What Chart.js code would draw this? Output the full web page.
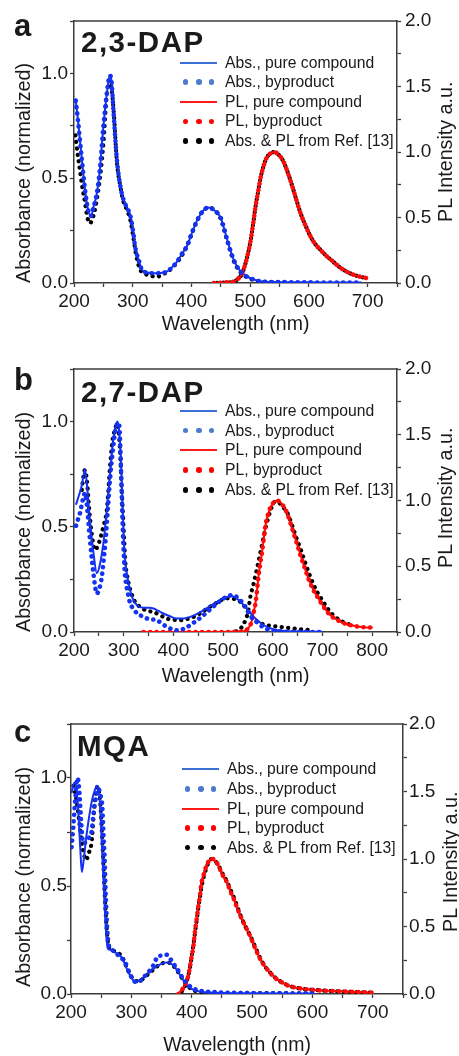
<!DOCTYPE html>
<html lang="en">
<head>
<meta charset="UTF-8">
<title>Absorption and PL spectra: 2,3-DAP, 2,7-DAP, MQA</title>
<script src="https://cdn.jsdelivr.net/npm/chart.js"></script>
<style>
  html, body { margin: 0; padding: 0; background: #fff; overflow: hidden; }
  body { width: 459px; height: 1056px; position: relative; font-family: 'Liberation Sans', Arial, sans-serif; color: #1a1a1a; }
  .panel { position: absolute; left: 0; width: 459px; }
  .panel canvas { position: absolute; left: 0; top: 0; }
  .letter { position: absolute; font-weight: bold; font-size: 31px; line-height: 1; }
  .name { position: absolute; font-weight: bold; font-size: 29.5px; line-height: 1; letter-spacing: 1.5px; }
  .ytitle { position: absolute; font-size: 19.7px; line-height: 1; white-space: nowrap; transform: rotate(-90deg); transform-origin: 0 0; }
  .lrow { position: absolute; height: 20px; line-height: 20px; font-size: 15.7px; white-space: nowrap; }
  .lrow .mk { position: absolute; top: 0; width: 37px; height: 20px; }
  .lrow .ln { position: absolute; left: 0; top: 9px; width: 37px; height: 2px; }
  .lrow .dt { position: absolute; top: 7.25px; width: 5.5px; height: 5.5px; border-radius: 50%; }
  .lrow .tx { position: absolute; top: 0; }
</style>
</head>
<body>

<div class="panel" id="pa" style="top:0;height:340px">
  <canvas id="chartA" width="459" height="340"></canvas>
  <div class="letter" style="left:14px;top:10px">a</div>
  <div class="name" style="left:81px;top:26.5px">2,3-DAP</div>
  <div class="ytitle" style="left:13.5px;top:283px">Absorbance (normalized)</div>
  <div class="ytitle" style="left:436.3px;top:221.6px">PL Intensity a.u.</div>
</div>

<div class="panel" id="pb" style="top:340px;height:350px">
  <canvas id="chartB" width="459" height="350"></canvas>
  <div class="letter" style="left:14px;top:23.8px">b</div>
  <div class="name" style="left:81px;top:37.2px">2,7-DAP</div>
  <div class="ytitle" style="left:13.5px;top:292px">Absorbance (normalized)</div>
  <div class="ytitle" style="left:436.3px;top:228px">PL Intensity a.u.</div>
</div>

<div class="panel" id="pc" style="top:690px;height:368px">
  <canvas id="chartC" width="459" height="368"></canvas>
  <div class="letter" style="left:14px;top:25.5px">c</div>
  <div class="name" style="left:77px;top:40.5px">MQA</div>
  <div class="ytitle" style="left:13.5px;top:297px">Absorbance (normalized)</div>
  <div class="ytitle" style="left:440.8px;top:241.7px">PL Intensity a.u.</div>
</div>

<script>
// ---- panel a: 2,3-DAP (pure compound and byproduct coincide) ----
const aAbsWl = [203, 207, 213, 219, 224, 229, 233, 239, 244, 250, 256, 261, 264, 267, 273, 279, 284, 290, 296, 301, 304, 310, 316, 325, 336, 347, 358, 367, 375, 384, 393, 401, 410, 420, 429, 440, 450, 461, 472, 484, 501, 524, 560, 600, 650, 690];
const aAbs = [0.87, 0.77, 0.60, 0.44, 0.35, 0.32, 0.36, 0.43, 0.54, 0.745, 0.905, 0.99, 0.96, 0.83, 0.59, 0.46, 0.40, 0.36, 0.32, 0.24, 0.175, 0.11, 0.062, 0.05, 0.046, 0.048, 0.054, 0.075, 0.10, 0.14, 0.18, 0.24, 0.30, 0.345, 0.36, 0.345, 0.31, 0.205, 0.11, 0.054, 0.022, 0.006, 0.004, 0.003, 0.002, 0.002];
const aRefAbsWl = [202, 206, 210, 214, 219, 223, 227, 233, 239, 245, 250, 256, 261, 264, 268, 273, 279, 284, 290, 296, 301, 306, 313, 320, 330, 341, 350, 360, 370, 380, 393, 401, 410, 420, 430, 440, 450, 461, 472, 484, 501, 524, 560];
const aRefAbs = [0.72, 0.62, 0.54, 0.46, 0.38, 0.31, 0.285, 0.32, 0.40, 0.52, 0.665, 0.905, 0.95, 0.93, 0.80, 0.58, 0.46, 0.39, 0.35, 0.30, 0.22, 0.13, 0.062, 0.045, 0.035, 0.03, 0.04, 0.055, 0.08, 0.115, 0.18, 0.24, 0.30, 0.345, 0.36, 0.345, 0.305, 0.20, 0.105, 0.05, 0.02, 0.005, 0.003];
const aPlWl = [438, 450, 462, 472, 480, 486, 492, 497, 501, 505, 509, 514, 518, 524, 529, 535, 541, 547, 553, 558, 565, 572, 579, 586, 595, 603, 612, 620, 630, 638, 647, 655, 665, 677, 690, 700];
const aPl = [0, 0.002, 0.005, 0.01, 0.035, 0.07, 0.15, 0.24, 0.33, 0.45, 0.58, 0.71, 0.81, 0.91, 0.964, 0.99, 1.0, 0.985, 0.955, 0.914, 0.83, 0.735, 0.63, 0.53, 0.43, 0.353, 0.29, 0.252, 0.205, 0.176, 0.14, 0.112, 0.085, 0.061, 0.045, 0.036];

// ---- panel b: 2,7-DAP ----
const bAbsPureWl = [204, 210, 215, 219, 222, 226, 232, 239, 246, 252, 259, 264, 269, 274, 279, 284, 288, 291, 294, 297, 301, 305, 310, 318, 327, 340, 352, 360, 370, 380, 393, 407, 420, 434, 447, 461, 475, 488, 500, 510, 519, 530, 542, 552, 562, 572, 582, 595, 610, 630, 660, 700];
const bAbsPure = [0.605, 0.65, 0.69, 0.74, 0.772, 0.70, 0.533, 0.38, 0.28, 0.32, 0.42, 0.53, 0.66, 0.79, 0.915, 0.98, 1.0, 0.95, 0.85, 0.66, 0.40, 0.30, 0.23, 0.16, 0.127, 0.115, 0.115, 0.112, 0.10, 0.088, 0.075, 0.064, 0.064, 0.072, 0.085, 0.104, 0.125, 0.143, 0.16, 0.168, 0.17, 0.155, 0.127, 0.10, 0.072, 0.05, 0.032, 0.018, 0.008, 0.004, 0.002, 0.001];
const bAbsBypWl = [204, 208, 212, 216, 219, 222, 226, 232, 239, 246, 251, 256, 260, 263, 268, 273, 278, 283, 287, 290, 292, 294, 296, 298, 301, 303, 308, 313, 320, 327, 337, 347, 357, 367, 377, 387, 397, 407, 418, 428, 438, 448, 458, 468, 478, 488, 498, 508, 515, 525, 535, 545, 552, 560, 569, 579, 590, 605, 622, 645, 670, 700];
const bAbsByp = [0.505, 0.535, 0.565, 0.61, 0.64, 0.66, 0.60, 0.44, 0.28, 0.183, 0.207, 0.263, 0.35, 0.42, 0.58, 0.74, 0.86, 0.955, 0.99, 0.995, 0.95, 0.82, 0.66, 0.50, 0.33, 0.263, 0.19, 0.136, 0.11, 0.088, 0.075, 0.064, 0.06, 0.056, 0.04, 0.024, 0.014, 0.008, 0.012, 0.024, 0.04, 0.056, 0.075, 0.095, 0.116, 0.136, 0.155, 0.168, 0.175, 0.17, 0.15, 0.12, 0.09, 0.062, 0.045, 0.026, 0.012, 0.005, 0.002, 0.001, 0, 0];
const bRefAbsWl = [215, 219, 222, 226, 230, 235, 242, 248, 253, 259, 266, 273, 278, 283, 286, 290, 293, 296, 298, 301, 303, 306, 310, 316, 323, 330, 337, 348, 360, 373, 387, 400, 414, 428, 441, 455, 468, 481, 495, 505, 515, 525, 535, 545, 552, 560, 569, 579, 589, 602, 616, 630, 643, 656, 670, 680];
const bRefAbs = [0.66, 0.74, 0.77, 0.72, 0.60, 0.48, 0.39, 0.41, 0.446, 0.50, 0.58, 0.80, 0.92, 0.963, 0.99, 0.95, 0.85, 0.68, 0.58, 0.44, 0.34, 0.28, 0.23, 0.18, 0.143, 0.125, 0.112, 0.10, 0.095, 0.08, 0.064, 0.058, 0.056, 0.062, 0.072, 0.09, 0.112, 0.13, 0.15, 0.16, 0.16, 0.155, 0.143, 0.115, 0.088, 0.065, 0.048, 0.038, 0.032, 0.028, 0.024, 0.02, 0.016, 0.013, 0.01, 0.008];
const bPlWl = [340, 380, 420, 460, 500, 530, 540, 546, 551, 556, 561, 566, 572, 579, 586, 591, 596, 602, 608, 614, 620, 626, 633, 640, 648, 657, 665, 673, 681, 690, 700, 710, 720, 731, 745, 758, 770, 778, 790, 801];
const bPl = [0, 0, 0, 0, 0, 0.003, 0.006, 0.013, 0.03, 0.064, 0.14, 0.24, 0.445, 0.623, 0.826, 0.90, 0.953, 0.985, 1.0, 0.99, 0.965, 0.927, 0.86, 0.775, 0.68, 0.57, 0.48, 0.394, 0.325, 0.267, 0.205, 0.152, 0.115, 0.089, 0.065, 0.051, 0.042, 0.038, 0.035, 0.034];
const bRefPlWl = [520, 530, 535, 540, 545, 550, 555, 561, 566, 571, 576, 581, 586, 591, 596, 600, 604, 610, 616, 623, 630, 640, 648, 657, 665, 673, 681, 690, 700, 710, 720, 731, 745, 760];
const bRefPl = [0, 0.01, 0.026, 0.05, 0.09, 0.15, 0.27, 0.36, 0.445, 0.53, 0.62, 0.71, 0.80, 0.87, 0.93, 0.97, 0.99, 0.99, 0.97, 0.94, 0.90, 0.80, 0.71, 0.62, 0.53, 0.445, 0.37, 0.30, 0.24, 0.18, 0.135, 0.10, 0.07, 0.05];

// ---- panel c: MQA ----
const cAbsPureWl = [201, 204, 207, 210, 213, 216, 218, 221, 225, 230, 235, 239, 243, 247, 250, 253, 256, 258.5, 261, 265, 270, 278, 285, 292, 298, 304, 308, 313, 319, 327, 336, 347, 358, 366, 373, 380, 387, 394, 402, 412, 425, 440, 470, 520, 570, 603];
const cAbsPure = [0.93, 0.97, 0.98, 0.93, 0.80, 0.64, 0.565, 0.62, 0.72, 0.82, 0.90, 0.94, 0.964, 0.92, 0.76, 0.575, 0.39, 0.27, 0.21, 0.205, 0.197, 0.185, 0.165, 0.12, 0.085, 0.06, 0.058, 0.063, 0.074, 0.095, 0.115, 0.136, 0.146, 0.14, 0.12, 0.09, 0.06, 0.035, 0.02, 0.012, 0.008, 0.006, 0.004, 0.003, 0.002, 0.002];
const cAbsBypWl = [201, 204, 207, 211, 214, 217, 220, 224, 229, 234, 238, 242, 245, 249, 252, 254, 256, 257, 258.5, 260, 262, 266, 270, 278, 284, 289, 297, 305, 312, 319, 328, 336, 344, 351, 358, 364, 369, 375, 380, 386, 391, 400, 408, 420, 430, 460, 500, 550, 600];
const cAbsByp = [0.68, 0.78, 0.90, 1.0, 0.93, 0.79, 0.70, 0.70, 0.72, 0.75, 0.85, 0.92, 0.95, 0.92, 0.86, 0.73, 0.61, 0.50, 0.39, 0.30, 0.235, 0.21, 0.2, 0.18, 0.165, 0.15, 0.097, 0.058, 0.055, 0.074, 0.10, 0.13, 0.174, 0.178, 0.182, 0.165, 0.143, 0.12, 0.097, 0.07, 0.051, 0.03, 0.02, 0.012, 0.01, 0.006, 0.004, 0.003, 0.002];
const cRefAbsWl = [200, 203, 207, 210, 214, 218, 222, 225, 229, 234, 239, 244, 248, 251, 254, 257, 260, 263, 270, 278, 285, 292, 298, 304, 310, 318, 327, 336, 347, 358, 366, 373, 380, 387, 396, 405, 420, 440, 480, 540, 600];
const cRefAbs = [0.97, 0.97, 0.93, 0.88, 0.79, 0.70, 0.64, 0.62, 0.65, 0.70, 0.88, 0.96, 0.90, 0.76, 0.58, 0.40, 0.27, 0.215, 0.20, 0.19, 0.17, 0.125, 0.09, 0.065, 0.06, 0.068, 0.09, 0.112, 0.136, 0.146, 0.14, 0.12, 0.09, 0.06, 0.03, 0.015, 0.008, 0.006, 0.005, 0.004, 0.003];
const cPlWl = [378, 386, 390, 394, 397, 400, 403, 405, 408, 411, 414, 416, 419, 422, 426, 430, 435, 440, 445, 449, 454, 459, 464, 470, 475, 481, 489, 497, 505, 514, 522, 530, 538, 547, 556, 564, 575, 586, 597, 620, 647, 675, 700];
const cPl = [0, 0.044, 0.08, 0.13, 0.2, 0.28, 0.36, 0.45, 0.55, 0.65, 0.74, 0.82, 0.87, 0.92, 0.965, 0.995, 1.0, 0.98, 0.945, 0.9, 0.86, 0.822, 0.76, 0.7, 0.64, 0.575, 0.5, 0.427, 0.34, 0.254, 0.2, 0.156, 0.12, 0.093, 0.07, 0.056, 0.045, 0.038, 0.032, 0.025, 0.02, 0.014, 0.01];
const cRefPlWl = [380, 388, 392, 396, 399, 402, 405, 408, 411, 414, 417, 420, 424, 428, 433, 438, 444, 450, 457, 464, 472, 481, 489, 497, 506, 514, 522, 530, 540, 550, 562, 575, 590, 610, 640, 670, 700];
const cRefPl = [0, 0.05, 0.1, 0.17, 0.25, 0.34, 0.44, 0.54, 0.64, 0.73, 0.81, 0.87, 0.93, 0.975, 1.0, 0.99, 0.955, 0.9, 0.845, 0.775, 0.69, 0.58, 0.5, 0.43, 0.34, 0.26, 0.2, 0.158, 0.115, 0.085, 0.06, 0.045, 0.035, 0.028, 0.02, 0.014, 0.01];

const legendLabels = ['Abs., pure compound', 'Abs., byproduct', 'PL, pure compound', 'PL, byproduct', 'Abs. & PL from Ref. [13]'];

const BLUE = '#1432f0';
const RED = '#ff0a0a';
const BLACK = '#000000';
const AXIS = '#3c3c3c';
const TEXT = '#1a1a1a';
const FONT = "'Liberation Sans', Arial, sans-serif";

function pts(xs, ys) {
  return xs.map((x, i) => ({ x: x, y: ys[i] }));
}

function solid(label, xs, ys, color, axis) {
  return {
    label: label, data: pts(xs, ys), yAxisID: axis,
    borderColor: color, borderWidth: 2, pointRadius: 0,
    cubicInterpolationMode: 'monotone', fill: false
  };
}

// dotted curve: round caps on near-zero dashes give a row of dots
function dotted(label, xs, ys, color, axis, size, offset) {
  return {
    label: label, data: pts(xs, ys), yAxisID: axis,
    borderColor: color, borderWidth: size, pointRadius: 0,
    borderDash: [0.1, 6.4], borderDashOffset: offset, borderCapStyle: 'round',
    cubicInterpolationMode: 'monotone', fill: false
  };
}

// top edge of the frame
const frameTop = {
  id: 'frameTop',
  afterDatasetsDraw(chart) {
    const { ctx, chartArea: a } = chart;
    ctx.save();
    ctx.strokeStyle = AXIS;
    ctx.lineWidth = 1.5;
    ctx.beginPath();
    ctx.moveTo(a.left - 0.75, a.top);
    ctx.lineTo(a.right + 0.75, a.top);
    ctx.stroke();
    ctx.restore();
  }
};

function half(v) {
  return Math.round(v * 100) % 50 === 0;
}

function makeChart(id, box, datasets) {
  const grid = { display: true, drawOnChartArea: false, drawTicks: true, tickLength: 4, tickWidth: 1.3, tickColor: AXIS };
  const border = { display: true, color: AXIS, width: 1.5 };
  const tickFont = { family: FONT, size: 19 };
  return new Chart(document.getElementById(id), {
    type: 'line',
    data: { datasets: datasets },
    options: {
      responsive: false,
      animation: false,
      events: [],
      layout: { padding: { top: box.top, left: 0, right: 0, bottom: 0 } },
      plugins: { legend: { display: false }, tooltip: { enabled: false } },
      scales: {
        x: {
          type: 'linear', min: 200, max: box.xMax,
          afterFit: s => { s.height = box.h - box.bottom; },
          grid: grid, border: border,
          ticks: {
            stepSize: 50, autoSkip: false, maxRotation: 0, padding: 3,
            font: tickFont, color: TEXT,
            callback: v => (v % 100 === 0 ? String(v) : '')
          },
          title: {
            display: true, text: 'Wavelength (nm)', color: TEXT,
            font: { family: FONT, size: 19.5 },
            padding: { top: 0, bottom: box.tpad }
          }
        },
        y: {
          position: 'left', min: 0, max: 1.25,
          afterFit: s => { s.width = box.left; },
          grid: grid, border: border,
          ticks: {
            stepSize: 0.25, autoSkip: false, padding: box.lpad,
            font: tickFont, color: TEXT,
            callback: v => (half(v) ? v.toFixed(1) : '')
          }
        },
        y2: {
          position: 'right', min: 0, max: 2,
          afterFit: s => { s.width = 459 - box.right; },
          grid: grid, border: border,
          ticks: {
            stepSize: 0.25, autoSkip: false, padding: box.rpad,
            font: tickFont, color: TEXT,
            callback: v => (half(v) ? v.toFixed(1) : '')
          }
        }
      }
    },
    plugins: [frameTop]
  });
}

function buildLegend(panelId, markLeft, textLeft, top0, step) {
  const panel = document.getElementById(panelId);
  const kinds = [['line', '#3b6fd4'], ['dots', '#4a7bd0'], ['line', '#ff1a1a'], ['dots', '#ff0000'], ['dots', '#000000']];
  legendLabels.forEach((label, i) => {
    const row = document.createElement('div');
    row.className = 'lrow';
    row.style.left = markLeft + 'px';
    row.style.top = (top0 + i * step) + 'px';
    const mk = document.createElement('div');
    mk.className = 'mk';
    mk.style.left = '0px';
    if (kinds[i][0] === 'line') {
      const ln = document.createElement('div');
      ln.className = 'ln';
      ln.style.background = kinds[i][1];
      mk.appendChild(ln);
    } else {
      [2.5, 16.2, 28.9].forEach(x => {
        const d = document.createElement('div');
        d.className = 'dt';
        d.style.left = x + 'px';
        d.style.background = kinds[i][1];
        mk.appendChild(d);
      });
    }
    const tx = document.createElement('div');
    tx.className = 'tx';
    tx.style.left = (textLeft - markLeft) + 'px';
    tx.textContent = label;
    row.appendChild(mk);
    row.appendChild(tx);
    panel.appendChild(row);
  });
}

// dataset 0 is drawn on top
makeChart('chartA', { h: 340, top: 21, bottom: 283, left: 74, right: 397, xMax: 750, tpad: 4, lpad: 2, rpad: 4 }, [
  dotted('Abs., byproduct', aAbsWl, aAbs, BLUE, 'y', 4.6, 0),
  dotted('PL, byproduct', aPlWl, aPl, RED, 'y2', 4.6, 0),
  solid('Abs., pure compound', aAbsWl, aAbs, BLUE, 'y'),
  solid('PL, pure compound', aPlWl, aPl, RED, 'y2'),
  dotted('Abs. from Ref. [13]', aRefAbsWl, aRefAbs, BLACK, 'y', 4.2, 3.2),
  dotted('PL from Ref. [13]', aPlWl, aPl, BLACK, 'y2', 4.2, 3.2)
]);

makeChart('chartB', { h: 350, top: 29, bottom: 292, left: 74, right: 397, xMax: 850, tpad: 2, lpad: 2, rpad: 4 }, [
  dotted('Abs., byproduct', bAbsBypWl, bAbsByp, BLUE, 'y', 4.6, 0),
  dotted('PL, byproduct', bPlWl, bPl, RED, 'y2', 4.6, 0),
  solid('Abs., pure compound', bAbsPureWl, bAbsPure, BLUE, 'y'),
  solid('PL, pure compound', bPlWl, bPl, RED, 'y2'),
  dotted('Abs. from Ref. [13]', bRefAbsWl, bRefAbs, BLACK, 'y', 4.2, 3.2),
  dotted('PL from Ref. [13]', bRefPlWl, bRefPl, BLACK, 'y2', 4.2, 3.2)
]);

makeChart('chartC', { h: 368, top: 34, bottom: 304, left: 71, right: 403, xMax: 750, tpad: 1, lpad: 0, rpad: 2 }, [
  dotted('Abs., byproduct', cAbsBypWl, cAbsByp, BLUE, 'y', 4.6, 0),
  dotted('PL, byproduct', cPlWl, cPl, RED, 'y2', 4.6, 0),
  solid('Abs., pure compound', cAbsPureWl, cAbsPure, BLUE, 'y'),
  solid('PL, pure compound', cPlWl, cPl, RED, 'y2'),
  dotted('Abs. from Ref. [13]', cRefAbsWl, cRefAbs, BLACK, 'y', 4.2, 3.2),
  dotted('PL from Ref. [13]', cRefPlWl, cRefPl, BLACK, 'y2', 4.2, 3.2)
]);

buildLegend('pa', 180, 225, 52.5, 19.6);
buildLegend('pb', 180, 225, 61, 19.7);
buildLegend('pc', 182, 227, 69.3, 19.6);
</script>
</body>
</html>
